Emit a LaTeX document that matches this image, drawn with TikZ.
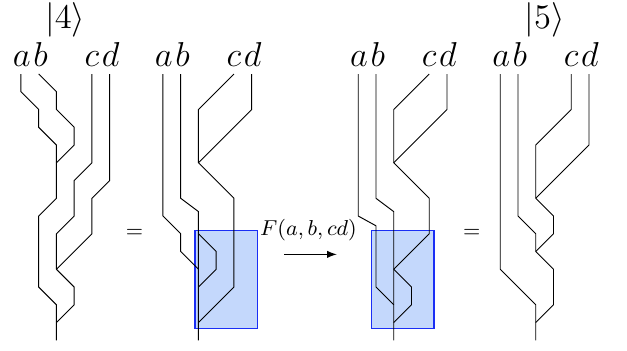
\documentclass[tikz,border=0pt]{standalone}
\usepackage{xcolor}
\usepackage{tikz}
\definecolor{FBoxFill}{HTML}{C4D8FC}
\definecolor{FBoxLine}{HTML}{1A2EF5}

\begin{document}
\begin{tikzpicture}[x=0.26cm,y=0.26cm,
  wire/.style={black,line width=0.4pt},
  fbox/.style={fill=FBoxFill,draw=FBoxLine,line width=0.5pt},
  lbl/.style={anchor=base,inner sep=0pt,font=\fontsize{13.5}{16}\selectfont},
  ket/.style={anchor=base,inner sep=0pt,font=\Large}]
\path[use as bounding box] (-1.18,4.17) rectangle (34.14,-15.55);
% |4>
\node[ket] (ket4) at (2.5,2.57) {$|4\rangle$};
\node[lbl] (a1) at (0.05,0.42) {$a$};
\node[lbl] (b1) at (1.1,0.42) {$b$};
\node[lbl] (c1) at (4.0,0.42) {$c$};
\node[lbl] (d1) at (5.05,0.42) {$d$};
\draw[wire] (0,0) -- (0,-1) -- (1,-2) -- (1,-3) -- (2,-4) -- (2,-5);
\draw[wire] (1,0) -- (2,-1) -- (2,-2) -- (3,-3) -- (3,-4) -- (2,-5);
\draw[wire] (2,-5) -- (2,-7) -- (1,-8) -- (1,-12) -- (2,-13) -- (2,-15);
\draw[wire] (4,0) -- (4,-5) -- (3,-6) -- (3,-8) -- (2,-9) -- (2,-11);
\draw[wire] (5,0) -- (5,-6) -- (4,-7) -- (4,-9) -- (2,-11);
\draw[wire] (2,-11) -- (3,-12) -- (3,-13) -- (2,-14);
\node[font=\small] (eq1) at (6.4,-9.0) {$=$};
% second
\begin{scope}[shift={(8,0)}]
\fill[fbox] (1.8,-8.83) rectangle (5.31,-14.33);
\node[lbl] (a2) at (0.05,0.42) {$a$};
\node[lbl] (b2) at (1.1,0.42) {$b$};
\node[lbl] (c2) at (4.0,0.42) {$c$};
\node[lbl] (d2) at (5.05,0.42) {$d$};
\draw[wire] (0,0) -- (0,-8) -- (1,-9) -- (1,-10) -- (2,-11);
\draw[wire] (1,0) -- (1,-7) -- (2,-7.75) -- (2,-15);
\draw[wire] (2,-9) -- (3,-10) -- (3,-11) -- (2,-12);
\draw[wire] (4,0) -- (2,-2) -- (2,-5);
\draw[wire] (5,0) -- (5,-2) -- (2,-5);
\draw[wire] (2,-5) -- (4,-7) -- (4,-12) -- (2,-14);
\end{scope}
\coordinate (fS) at (14.82,-10.16);
\coordinate (fE) at (17.79,-10.16);
\draw[-latex] (fS) -- (fE);
\node[font=\small] (fmove) at (16.2,-8.82) {$F(a,b,cd)$};
% third
\begin{scope}[shift={(19,0)}]
\fill[fbox] (0.76,-8.83) rectangle (4.27,-14.33);
\node[lbl] (a3) at (0.05,0.42) {$a$};
\node[lbl] (b3) at (1.1,0.42) {$b$};
\node[lbl] (c3) at (4.0,0.42) {$c$};
\node[lbl] (d3) at (5.05,0.42) {$d$};
\draw[wire] (0,0) -- (0,-8) -- (1,-8.55) -- (1,-12) -- (2,-13);
\draw[wire] (1,0) -- (1,-7) -- (2,-7.75) -- (2,-15);
\draw[wire] (4,0) -- (2,-2) -- (2,-5);
\draw[wire] (5,0) -- (5,-2) -- (2,-5);
\draw[wire] (2,-5) -- (4,-7) -- (4,-9) -- (2,-11);
\draw[wire] (2,-11) -- (3,-12) -- (3,-13) -- (2,-14);
\end{scope}
\node[font=\small] (eq2) at (25.4,-9.0) {$=$};
% |5>
\begin{scope}[shift={(27,0)}]
\node[ket] (ket5) at (2.5,2.57) {$|5\rangle$};
\node[lbl] (a4) at (0.05,0.42) {$a$};
\node[lbl] (b4) at (1.1,0.42) {$b$};
\node[lbl] (c4) at (4.0,0.42) {$c$};
\node[lbl] (d4) at (5.05,0.42) {$d$};
\draw[wire] (0,0) -- (0,-11) -- (2,-13) -- (2,-14);
\draw[wire] (1,0) -- (1,-8) -- (2,-9) -- (2,-10);
\draw[wire] (4,0) -- (4,-2) -- (2,-4) -- (2,-7);
\draw[wire] (5,0) -- (5,-4) -- (2,-7);
\draw[wire] (2,-7) -- (3,-8) -- (3,-9) -- (2,-10);
\draw[wire] (2,-10) -- (3,-11) -- (3,-13) -- (2,-14) -- (2,-15);
\end{scope}
\end{tikzpicture}
\end{document}
